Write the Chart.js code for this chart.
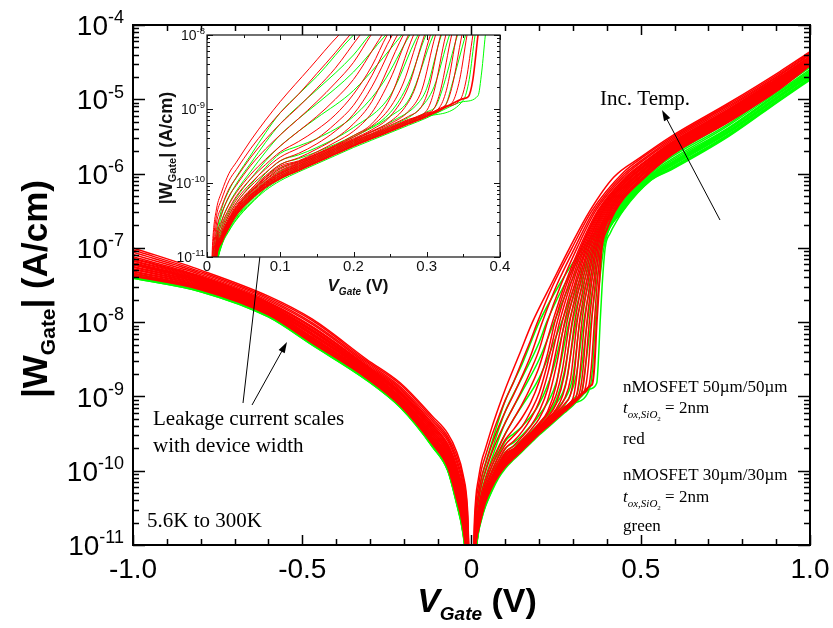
<!DOCTYPE html>
<html>
<head>
<meta charset="utf-8">
<script src="https://cdn.jsdelivr.net/npm/chart.js@4"></script>
<style>
  html, body { margin: 0; padding: 0; background: #fff; }
  #wrap { position: relative; width: 833px; height: 628px; }
  #wrap canvas { position: absolute; left: 0; top: 0; }
</style>
</head>
<body>
<div id="wrap">
  <canvas id="mainChart" width="833" height="628"></canvas>
  <canvas id="insetChart" width="833" height="628"></canvas>
</div>
<script>
// gate voltage grids (V) shared by all sweeps
const negV = [-1, -0.8, -0.6, -0.47, -0.31, -0.21, -0.115, -0.07, -0.045, -0.025, -0.012, -0.003];
const lowV = [0.004, 0.008, 0.013, 0.02, 0.03, 0.04, 0.06, 0.08, 0.1];

// log10 |W_Gate| (A/cm), 50um/50um device, coldest (5.6K) first, hottest (300K) last
const redNegLog = [
  [-7.38, -7.56, -7.90, -8.28, -8.75, -9.12, -9.64, -9.95, -10.35, -10.75, -11.30, -12.00],
  [-7.37, -7.55, -7.89, -8.27, -8.74, -9.11, -9.63, -9.94, -10.33, -10.73, -11.27, -11.99],
  [-7.35, -7.54, -7.88, -8.25, -8.73, -9.10, -9.61, -9.92, -10.30, -10.70, -11.24, -11.97],
  [-7.34, -7.53, -7.87, -8.24, -8.72, -9.09, -9.60, -9.90, -10.28, -10.67, -11.21, -11.96],
  [-7.32, -7.52, -7.86, -8.23, -8.71, -9.07, -9.58, -9.88, -10.25, -10.64, -11.18, -11.94],
  [-7.31, -7.51, -7.85, -8.22, -8.70, -9.06, -9.57, -9.87, -10.23, -10.62, -11.15, -11.93],
  [-7.29, -7.50, -7.84, -8.21, -8.69, -9.05, -9.56, -9.85, -10.21, -10.59, -11.11, -11.91],
  [-7.28, -7.49, -7.83, -8.20, -8.68, -9.04, -9.55, -9.83, -10.19, -10.57, -11.08, -11.90],
  [-7.26, -7.48, -7.82, -8.18, -8.67, -9.03, -9.53, -9.81, -10.16, -10.54, -11.05, -11.88],
  [-7.25, -7.47, -7.81, -8.17, -8.66, -9.02, -9.52, -9.80, -10.14, -10.51, -11.02, -11.87],
  [-7.23, -7.46, -7.80, -8.16, -8.65, -9.01, -9.50, -9.78, -10.11, -10.48, -10.99, -11.85],
  [-7.22, -7.45, -7.80, -8.15, -8.65, -9.00, -9.49, -9.76, -10.09, -10.46, -10.96, -11.84],
  [-7.21, -7.44, -7.79, -8.13, -8.64, -8.98, -9.47, -9.74, -10.06, -10.43, -10.93, -11.82],
  [-7.20, -7.43, -7.78, -8.12, -8.63, -8.97, -9.46, -9.73, -10.04, -10.40, -10.90, -11.81],
  [-7.18, -7.42, -7.77, -8.11, -8.62, -8.96, -9.44, -9.71, -10.02, -10.37, -10.87, -11.79],
  [-7.17, -7.41, -7.76, -8.10, -8.61, -8.95, -9.43, -9.69, -10.00, -10.35, -10.84, -11.77],
  [-7.15, -7.40, -7.75, -8.08, -8.60, -8.94, -9.41, -9.67, -9.97, -10.32, -10.81, -11.75],
  [-7.14, -7.39, -7.74, -8.07, -8.59, -8.93, -9.40, -9.66, -9.95, -10.30, -10.78, -11.74],
  [-7.12, -7.38, -7.73, -8.06, -8.58, -8.91, -9.38, -9.64, -9.92, -10.27, -10.75, -11.72],
  [-7.09, -7.36, -7.71, -8.03, -8.56, -8.89, -9.36, -9.60, -9.87, -10.21, -10.69, -11.69],
  [-7.06, -7.34, -7.69, -8.01, -8.54, -8.87, -9.33, -9.57, -9.83, -10.16, -10.62, -11.66],
  [-7.03, -7.32, -7.67, -7.98, -8.52, -8.84, -9.30, -9.54, -9.78, -10.10, -10.56, -11.63],
  [-7.00, -7.30, -7.65, -7.96, -8.50, -8.82, -9.27, -9.50, -9.73, -10.05, -10.50, -11.60]
];
const redLowLog = [
  [-12.00, -11.60, -11.00, -10.80, -10.60, -10.43, -10.22, -10.06, -9.94],
  [-12.00, -11.59, -11.00, -10.80, -10.60, -10.43, -10.21, -10.05, -9.93],
  [-11.99, -11.58, -10.99, -10.79, -10.59, -10.42, -10.20, -10.04, -9.92],
  [-11.99, -11.58, -10.98, -10.78, -10.58, -10.41, -10.20, -10.03, -9.91],
  [-11.98, -11.57, -10.97, -10.77, -10.57, -10.40, -10.19, -10.02, -9.90],
  [-11.98, -11.56, -10.97, -10.77, -10.57, -10.40, -10.18, -10.02, -9.89],
  [-11.98, -11.55, -10.96, -10.76, -10.56, -10.39, -10.17, -10.01, -9.88],
  [-11.98, -11.54, -10.96, -10.76, -10.55, -10.38, -10.17, -10.00, -9.87],
  [-11.97, -11.53, -10.95, -10.75, -10.54, -10.37, -10.16, -9.99, -9.86],
  [-11.97, -11.52, -10.94, -10.74, -10.53, -10.36, -10.15, -9.98, -9.85],
  [-11.96, -11.51, -10.93, -10.73, -10.52, -10.35, -10.13, -9.96, -9.83],
  [-11.95, -11.50, -10.92, -10.72, -10.51, -10.34, -10.12, -9.95, -9.81],
  [-11.94, -11.48, -10.91, -10.71, -10.50, -10.33, -10.11, -9.93, -9.79],
  [-11.94, -11.47, -10.90, -10.70, -10.49, -10.32, -10.10, -9.92, -9.77],
  [-11.93, -11.45, -10.88, -10.68, -10.47, -10.30, -10.08, -9.90, -9.75],
  [-11.91, -11.41, -10.85, -10.65, -10.44, -10.27, -10.04, -9.86, -9.70],
  [-11.89, -11.36, -10.82, -10.61, -10.40, -10.23, -10.00, -9.81, -9.65],
  [-11.86, -11.30, -10.78, -10.56, -10.35, -10.18, -9.94, -9.75, -9.58],
  [-11.83, -11.24, -10.73, -10.51, -10.29, -10.13, -9.88, -9.68, -9.50],
  [-11.77, -11.12, -10.63, -10.41, -10.18, -10.03, -9.76, -9.54, -9.35],
  [-11.72, -11.00, -10.54, -10.32, -10.08, -9.93, -9.65, -9.41, -9.20],
  [-11.66, -10.87, -10.44, -10.22, -9.97, -9.82, -9.53, -9.28, -9.05],
  [-11.60, -10.75, -10.35, -10.12, -9.87, -9.72, -9.42, -9.15, -8.90]
];
const redTail = [
  [[0.125, -9.83], [0.15, -9.72], [0.175, -9.61], [0.2, -9.5], [0.225, -9.4], [0.25, -9.3], [0.275, -9.2], [0.3, -9.1], [0.325, -8.98], [0.35, -8.86], [0.357, -8.83], [0.363, -8.6], [0.37, -8.0], [0.377, -7.5], [0.385, -7.0], [0.4, -6.75], [0.425, -6.5], [0.45, -6.33], [0.5, -6.1], [0.59, -5.75], [0.76, -5.3], [0.91, -4.86], [1.0, -4.54]],
  [[0.125, -9.82], [0.15, -9.71], [0.175, -9.6], [0.2, -9.49], [0.225, -9.39], [0.25, -9.29], [0.275, -9.19], [0.3, -9.09], [0.325, -8.97], [0.346, -8.87], [0.354, -8.6], [0.363, -8.0], [0.371, -7.5], [0.382, -7.0], [0.422, -6.5], [0.45, -6.32], [0.5, -6.09], [0.59, -5.74], [0.76, -5.29], [0.91, -4.85], [1.0, -4.54]],
  [[0.125, -9.81], [0.15, -9.7], [0.175, -9.59], [0.2, -9.48], [0.225, -9.38], [0.25, -9.28], [0.275, -9.18], [0.3, -9.08], [0.325, -8.96], [0.335, -8.91], [0.345, -8.6], [0.355, -8.0], [0.365, -7.5], [0.378, -7.0], [0.419, -6.5], [0.45, -6.3], [0.5, -6.08], [0.59, -5.73], [0.76, -5.28], [0.91, -4.84], [1.0, -4.53]],
  [[0.125, -9.8], [0.15, -9.69], [0.175, -9.58], [0.2, -9.47], [0.225, -9.37], [0.25, -9.27], [0.275, -9.17], [0.3, -9.07], [0.326, -8.94], [0.335, -8.68], [0.348, -8.0], [0.36, -7.5], [0.374, -7.0], [0.416, -6.5], [0.45, -6.29], [0.5, -6.07], [0.59, -5.72], [0.76, -5.27], [0.91, -4.83], [1.0, -4.52]],
  [[0.125, -9.79], [0.15, -9.68], [0.175, -9.57], [0.2, -9.46], [0.225, -9.36], [0.25, -9.26], [0.275, -9.16], [0.3, -9.06], [0.318, -8.97], [0.328, -8.7], [0.341, -8.0], [0.354, -7.5], [0.37, -7.0], [0.413, -6.5], [0.45, -6.27], [0.5, -6.05], [0.59, -5.71], [0.76, -5.26], [0.91, -4.82], [1.0, -4.51]],
  [[0.125, -9.78], [0.15, -9.67], [0.175, -9.56], [0.2, -9.45], [0.225, -9.35], [0.25, -9.25], [0.275, -9.15], [0.3, -9.05], [0.309, -9.01], [0.319, -8.74], [0.334, -8.0], [0.349, -7.5], [0.367, -7.0], [0.411, -6.5], [0.45, -6.26], [0.5, -6.04], [0.59, -5.7], [0.76, -5.25], [0.91, -4.82], [1.0, -4.51]],
  [[0.125, -9.77], [0.15, -9.66], [0.175, -9.55], [0.2, -9.44], [0.225, -9.34], [0.25, -9.24], [0.275, -9.14], [0.3, -9.02], [0.31, -8.76], [0.326, -8.0], [0.343, -7.5], [0.363, -7.0], [0.408, -6.5], [0.45, -6.24], [0.5, -6.03], [0.59, -5.69], [0.76, -5.24], [0.91, -4.81], [1.0, -4.5]],
  [[0.125, -9.76], [0.15, -9.65], [0.175, -9.54], [0.2, -9.43], [0.225, -9.33], [0.25, -9.22], [0.275, -9.1], [0.292, -8.98], [0.302, -8.75], [0.319, -8.0], [0.338, -7.5], [0.36, -7.0], [0.405, -6.5], [0.45, -6.23], [0.5, -6.02], [0.59, -5.68], [0.76, -5.23], [0.91, -4.8], [1.0, -4.49]],
  [[0.125, -9.75], [0.15, -9.64], [0.175, -9.53], [0.2, -9.42], [0.225, -9.31], [0.25, -9.2], [0.275, -9.03], [0.293, -8.75], [0.312, -8.0], [0.332, -7.5], [0.356, -7.0], [0.402, -6.5], [0.45, -6.21], [0.5, -6.0], [0.59, -5.67], [0.76, -5.22], [0.91, -4.79], [1.0, -4.48]],
  [[0.125, -9.74], [0.15, -9.63], [0.175, -9.52], [0.2, -9.41], [0.225, -9.3], [0.25, -9.17], [0.27, -8.98], [0.284, -8.72], [0.305, -8.0], [0.326, -7.5], [0.352, -7.0], [0.399, -6.5], [0.45, -6.2], [0.5, -5.99], [0.59, -5.66], [0.76, -5.21], [0.91, -4.78], [1.0, -4.48]],
  [[0.125, -9.73], [0.15, -9.62], [0.175, -9.51], [0.2, -9.4], [0.225, -9.28], [0.25, -9.1], [0.275, -8.7], [0.297, -8.0], [0.32, -7.5], [0.348, -7.0], [0.396, -6.5], [0.45, -6.18], [0.5, -5.98], [0.59, -5.65], [0.76, -5.2], [0.91, -4.77], [1.0, -4.47]],
  [[0.125, -9.72], [0.15, -9.61], [0.175, -9.5], [0.2, -9.38], [0.225, -9.23], [0.25, -8.98], [0.268, -8.65], [0.29, -8.0], [0.315, -7.5], [0.345, -7.0], [0.393, -6.5], [0.45, -6.17], [0.5, -5.97], [0.59, -5.64], [0.76, -5.19], [0.91, -4.76], [1.0, -4.47]],
  [[0.125, -9.71], [0.15, -9.6], [0.175, -9.49], [0.2, -9.36], [0.225, -9.2], [0.25, -8.85], [0.282, -8.0], [0.309, -7.5], [0.341, -7.0], [0.39, -6.5], [0.45, -6.15], [0.5, -5.95], [0.59, -5.63], [0.76, -5.18], [0.91, -4.75], [1.0, -4.46]],
  [[0.125, -9.7], [0.15, -9.58], [0.175, -9.45], [0.2, -9.3], [0.225, -9.05], [0.25, -8.6], [0.275, -8.0], [0.304, -7.5], [0.338, -7.0], [0.388, -6.5], [0.45, -6.14], [0.5, -5.94], [0.59, -5.63], [0.76, -5.18], [0.91, -4.75], [1.0, -4.45]],
  [[0.125, -9.66], [0.15, -9.54], [0.175, -9.4], [0.2, -9.2], [0.225, -8.9], [0.268, -8.0], [0.298, -7.5], [0.334, -7.0], [0.385, -6.5], [0.45, -6.13], [0.5, -5.93], [0.59, -5.62], [0.76, -5.17], [0.91, -4.74], [1.0, -4.44]],
  [[0.125, -9.6], [0.15, -9.47], [0.175, -9.3], [0.2, -9.07], [0.225, -8.7], [0.26, -8.0], [0.292, -7.5], [0.33, -7.0], [0.382, -6.5], [0.45, -6.12], [0.5, -5.92], [0.59, -5.61], [0.76, -5.16], [0.91, -4.73], [1.0, -4.44]],
  [[0.125, -9.53], [0.15, -9.4], [0.175, -9.2], [0.2, -8.95], [0.225, -8.55], [0.253, -8.0], [0.286, -7.5], [0.326, -7.0], [0.379, -6.5], [0.45, -6.1], [0.5, -5.9], [0.59, -5.6], [0.76, -5.15], [0.91, -4.72], [1.0, -4.43]],
  [[0.125, -9.44], [0.15, -9.28], [0.175, -9.08], [0.2, -8.8], [0.225, -8.42], [0.246, -8.0], [0.28, -7.5], [0.323, -7.0], [0.376, -6.5], [0.45, -6.09], [0.5, -5.89], [0.59, -5.59], [0.76, -5.14], [0.91, -4.71], [1.0, -4.43]],
  [[0.125, -9.3], [0.15, -9.1], [0.175, -8.87], [0.2, -8.6], [0.239, -8.0], [0.275, -7.5], [0.319, -7.0], [0.373, -6.5], [0.45, -6.07], [0.5, -5.88], [0.59, -5.58], [0.76, -5.13], [0.91, -4.7], [1.0, -4.42]],
  [[0.125, -9.13], [0.15, -8.9], [0.175, -8.65], [0.2, -8.37], [0.224, -8.0], [0.264, -7.5], [0.312, -7.0], [0.367, -6.5], [0.45, -6.04], [0.5, -5.85], [0.59, -5.56], [0.76, -5.11], [0.91, -4.68], [1.0, -4.4]],
  [[0.125, -8.97], [0.15, -8.72], [0.175, -8.45], [0.209, -8.0], [0.252, -7.5], [0.305, -7.0], [0.362, -6.5], [0.45, -6.01], [0.5, -5.83], [0.59, -5.54], [0.76, -5.09], [0.91, -4.67], [1.0, -4.39]],
  [[0.125, -8.8], [0.15, -8.52], [0.175, -8.24], [0.195, -8.0], [0.241, -7.5], [0.297, -7.0], [0.356, -6.5], [0.45, -5.98], [0.5, -5.8], [0.59, -5.52], [0.76, -5.07], [0.91, -4.65], [1.0, -4.37]],
  [[0.14, -8.45], [0.18, -8.0], [0.24, -7.45], [0.29, -7.0], [0.35, -6.5], [0.42, -6.05], [0.5, -5.78], [0.59, -5.5], [0.76, -5.05], [0.91, -4.63], [1.0, -4.36]]
];

// log10 |W_Gate| (A/cm), 30um/30um device, coldest first
const greenNegLog = [
  [-7.41, -7.59, -7.93, -8.31, -8.78, -9.15, -9.68, -10.00, -10.43, -10.85, -11.40, -12.00],
  [-7.41, -7.59, -7.93, -8.31, -8.78, -9.15, -9.68, -10.00, -10.42, -10.84, -11.39, -11.99],
  [-7.40, -7.58, -7.92, -8.30, -8.77, -9.14, -9.67, -9.99, -10.41, -10.83, -11.37, -11.98],
  [-7.40, -7.58, -7.92, -8.30, -8.77, -9.14, -9.67, -9.99, -10.40, -10.82, -11.36, -11.97],
  [-7.40, -7.58, -7.92, -8.30, -8.77, -9.14, -9.66, -9.98, -10.39, -10.80, -11.34, -11.95],
  [-7.40, -7.58, -7.92, -8.30, -8.77, -9.14, -9.66, -9.97, -10.38, -10.79, -11.33, -11.94],
  [-7.39, -7.57, -7.91, -8.29, -8.76, -9.13, -9.65, -9.96, -10.37, -10.78, -11.31, -11.93],
  [-7.39, -7.57, -7.91, -8.29, -8.76, -9.13, -9.65, -9.96, -10.37, -10.77, -11.30, -11.92],
  [-7.38, -7.56, -7.90, -8.28, -8.76, -9.12, -9.64, -9.95, -10.36, -10.75, -11.28, -11.90],
  [-7.38, -7.56, -7.90, -8.28, -8.76, -9.12, -9.64, -9.95, -10.35, -10.74, -11.26, -11.89],
  [-7.37, -7.56, -7.90, -8.27, -8.75, -9.11, -9.63, -9.94, -10.34, -10.73, -11.24, -11.88],
  [-7.37, -7.55, -7.89, -8.26, -8.74, -9.10, -9.62, -9.93, -10.32, -10.70, -11.21, -11.85],
  [-7.36, -7.55, -7.89, -8.26, -8.74, -9.10, -9.61, -9.91, -10.30, -10.68, -11.18, -11.83],
  [-7.35, -7.54, -7.88, -8.25, -8.73, -9.09, -9.60, -9.90, -10.28, -10.65, -11.15, -11.80]
];
const greenLowLog = [
  [-12.00, -11.70, -11.15, -10.85, -10.65, -10.50, -10.28, -10.10, -9.97],
  [-12.00, -11.69, -11.14, -10.84, -10.64, -10.49, -10.27, -10.08, -9.95],
  [-11.99, -11.67, -11.13, -10.83, -10.62, -10.47, -10.25, -10.06, -9.92],
  [-11.99, -11.65, -11.12, -10.82, -10.61, -10.46, -10.23, -10.04, -9.90],
  [-11.98, -11.62, -11.10, -10.80, -10.59, -10.44, -10.21, -10.01, -9.87],
  [-11.97, -11.60, -11.09, -10.78, -10.57, -10.42, -10.19, -9.99, -9.84],
  [-11.96, -11.57, -11.07, -10.76, -10.55, -10.40, -10.16, -9.96, -9.80],
  [-11.95, -11.54, -11.04, -10.74, -10.52, -10.37, -10.13, -9.92, -9.75],
  [-11.94, -11.50, -11.01, -10.71, -10.49, -10.33, -10.09, -9.87, -9.70],
  [-11.92, -11.42, -10.96, -10.66, -10.43, -10.27, -10.02, -9.79, -9.60],
  [-11.90, -11.34, -10.91, -10.60, -10.37, -10.20, -9.94, -9.70, -9.50],
  [-11.87, -11.23, -10.84, -10.52, -10.28, -10.11, -9.84, -9.58, -9.35],
  [-11.83, -11.11, -10.76, -10.43, -10.19, -10.01, -9.73, -9.45, -9.20],
  [-11.80, -11.00, -10.68, -10.35, -10.10, -9.92, -9.62, -9.32, -9.05]
];
const greenTail = [
  [[0.125, -9.85], [0.15, -9.74], [0.175, -9.63], [0.2, -9.52], [0.225, -9.42], [0.25, -9.32], [0.275, -9.22], [0.3, -9.12], [0.325, -9.0], [0.35, -8.9], [0.37, -8.82], [0.375, -8.5], [0.38, -8.0], [0.386, -7.5], [0.395, -7.0], [0.41, -6.8], [0.43, -6.63], [0.448, -6.5], [0.53, -6.09], [0.59, -5.95], [0.76, -5.5], [0.91, -5.02], [1.0, -4.74]],
  [[0.125, -9.83], [0.15, -9.72], [0.2, -9.5], [0.25, -9.3], [0.3, -9.1], [0.35, -8.88], [0.358, -8.6], [0.366, -8.0], [0.377, -7.5], [0.391, -7.0], [0.447, -6.5], [0.53, -6.09], [0.59, -5.94], [0.76, -5.49], [0.91, -5.01], [1.0, -4.73]],
  [[0.125, -9.81], [0.15, -9.7], [0.2, -9.48], [0.25, -9.28], [0.3, -9.08], [0.325, -8.96], [0.335, -8.65], [0.353, -8.0], [0.368, -7.5], [0.387, -7.0], [0.445, -6.5], [0.53, -6.08], [0.59, -5.93], [0.76, -5.48], [0.91, -5.0], [1.0, -4.72]],
  [[0.125, -9.79], [0.15, -9.68], [0.2, -9.46], [0.25, -9.26], [0.3, -9.04], [0.313, -8.95], [0.323, -8.68], [0.342, -8.0], [0.36, -7.5], [0.383, -7.0], [0.443, -6.5], [0.53, -6.07], [0.59, -5.92], [0.76, -5.47], [0.91, -4.99], [1.0, -4.71]],
  [[0.125, -9.77], [0.15, -9.66], [0.2, -9.44], [0.25, -9.23], [0.29, -9.0], [0.31, -8.7], [0.331, -8.0], [0.352, -7.5], [0.379, -7.0], [0.441, -6.5], [0.53, -6.06], [0.59, -5.9], [0.76, -5.45], [0.91, -4.97], [1.0, -4.69]],
  [[0.125, -9.74], [0.15, -9.64], [0.2, -9.42], [0.25, -9.18], [0.29, -8.9], [0.3, -8.72], [0.32, -8.0], [0.345, -7.5], [0.375, -7.0], [0.44, -6.5], [0.53, -6.06], [0.59, -5.89], [0.76, -5.44], [0.91, -4.96], [1.0, -4.68]],
  [[0.125, -9.71], [0.15, -9.61], [0.2, -9.38], [0.25, -9.1], [0.277, -8.85], [0.309, -8.0], [0.337, -7.5], [0.371, -7.0], [0.438, -6.5], [0.53, -6.05], [0.59, -5.88], [0.76, -5.43], [0.91, -4.95], [1.0, -4.67]],
  [[0.125, -9.67], [0.15, -9.58], [0.2, -9.36], [0.25, -9.05], [0.275, -8.65], [0.299, -8.0], [0.329, -7.5], [0.367, -7.0], [0.437, -6.5], [0.53, -6.04], [0.59, -5.87], [0.76, -5.42], [0.91, -4.94], [1.0, -4.66]],
  [[0.125, -9.62], [0.15, -9.52], [0.2, -9.25], [0.25, -8.82], [0.288, -8.0], [0.321, -7.5], [0.363, -7.0], [0.435, -6.5], [0.53, -6.03], [0.59, -5.86], [0.76, -5.4], [0.91, -4.92], [1.0, -4.65]],
  [[0.125, -9.5], [0.15, -9.4], [0.2, -9.1], [0.24, -8.65], [0.277, -8.0], [0.314, -7.5], [0.359, -7.0], [0.434, -6.5], [0.53, -6.03], [0.59, -5.85], [0.76, -5.39], [0.91, -4.91], [1.0, -4.64]],
  [[0.125, -9.3], [0.15, -9.12], [0.2, -8.75], [0.266, -8.0], [0.306, -7.5], [0.354, -7.0], [0.432, -6.5], [0.53, -6.02], [0.59, -5.83], [0.76, -5.38], [0.91, -4.9], [1.0, -4.62]],
  [[0.125, -9.13], [0.15, -8.93], [0.2, -8.5], [0.244, -8.0], [0.29, -7.5], [0.346, -7.0], [0.428, -6.5], [0.53, -6.0], [0.59, -5.81], [0.76, -5.35], [0.91, -4.88], [1.0, -4.6]],
  [[0.125, -8.96], [0.15, -8.74], [0.2, -8.27], [0.222, -8.0], [0.274, -7.5], [0.338, -7.0], [0.425, -6.5], [0.53, -5.98], [0.59, -5.78], [0.76, -5.33], [0.91, -4.85], [1.0, -4.57]],
  [[0.125, -8.8], [0.15, -8.56], [0.2, -8.0], [0.259, -7.5], [0.33, -7.0], [0.422, -6.5], [0.53, -5.97], [0.59, -5.76], [0.76, -5.3], [0.91, -4.83], [1.0, -4.55]]
];

// axis ticks and labels
const mainXTicks = [-1, -0.5, 0, 0.5, 1];
const mainXLabels = ['-1.0', '-0.5', '0', '0.5', '1.0'];
const mainYExps = [-4, -5, -6, -7, -8, -9, -10, -11];
const insetXTicks = [0, 0.1, 0.2, 0.3, 0.4];
const insetXLabels = ['0', '0.1', '0.2', '0.3', '0.4'];
const insetYExps = [-8, -9, -10, -11];

const SANS = '"Liberation Sans", Arial, sans-serif';
const SERIF = '"Liberation Serif", "Times New Roman", serif';

function sweep(negLog, lowLog, tail) {
  const pts = [];
  negV.forEach((v, i) => pts.push({ x: v, y: Math.pow(10, negLog[i]) }));
  lowV.forEach((v, i) => pts.push({ x: v, y: Math.pow(10, lowLog[i]) }));
  tail.forEach(p => pts.push({ x: p[0], y: Math.pow(10, p[1]) }));
  return pts;
}

function makeSets(width, coldWidth) {
  const sets = [];
  // red first so it sits on top of the green sweeps
  redNegLog.forEach((neg, k) => sets.push({
    data: sweep(neg, redLowLog[k], redTail[k]),
    borderColor: '#ff0000',
    borderWidth: k === 0 ? coldWidth : width
  }));
  greenNegLog.forEach((neg, j) => sets.push({
    data: sweep(neg, greenLowLog[j], greenTail[j]),
    borderColor: '#00ff00',
    borderWidth: width
  }));
  return sets;
}

function powLabel(ctx, exp, right, mid, big, small) {
  const sup = String(exp);
  ctx.font = small + 'px ' + SANS;
  const ws = ctx.measureText(sup).width;
  ctx.font = big + 'px ' + SANS;
  const wb = ctx.measureText('10').width;
  ctx.textAlign = 'left';
  ctx.textBaseline = 'alphabetic';
  ctx.fillText('10', right - ws - wb, mid + big * 0.36);
  ctx.font = small + 'px ' + SANS;
  ctx.fillText(sup, right - ws, mid - big * 0.06);
}

// text made of runs: [text, font, baseline shift]
function runs(ctx, parts, cx, cy, angle) {
  ctx.save();
  ctx.translate(cx, cy);
  ctx.rotate(angle);
  let total = 0;
  parts.forEach(p => { ctx.font = p[1]; total += ctx.measureText(p[0]).width; });
  let x = -total / 2;
  ctx.textAlign = 'left';
  ctx.textBaseline = 'alphabetic';
  parts.forEach(p => {
    ctx.font = p[1];
    ctx.fillText(p[0], x, p[2]);
    x += ctx.measureText(p[0]).width;
  });
  ctx.restore();
}

function arrow(ctx, x1, y1, x2, y2) {
  const a = Math.atan2(y2 - y1, x2 - x1);
  const len = 11, half = 3.5;
  ctx.beginPath();
  ctx.moveTo(x1, y1);
  ctx.lineTo(x2 - Math.cos(a) * len * 0.7, y2 - Math.sin(a) * len * 0.7);
  ctx.stroke();
  ctx.beginPath();
  ctx.moveTo(x2, y2);
  ctx.lineTo(x2 - len * Math.cos(a) + half * Math.sin(a), y2 - len * Math.sin(a) - half * Math.cos(a));
  ctx.lineTo(x2 - len * Math.cos(a) - half * Math.sin(a), y2 - len * Math.sin(a) + half * Math.cos(a));
  ctx.closePath();
  ctx.fill();
}

function drawTicks(ctx, chart, o) {
  const { chartArea: a, scales: { x, y } } = chart;
  ctx.lineWidth = o.tickWidth;
  ctx.beginPath();
  for (let v = o.xMin; v <= o.xMax + 1e-9; v += o.xMinor) {
    const px = Math.round(x.getPixelForValue(v)) + 0.5;
    const major = Math.abs(v / o.xMajor - Math.round(v / o.xMajor)) < 1e-6;
    const len = major ? o.majorLen : o.minorLen;
    ctx.moveTo(px, a.bottom); ctx.lineTo(px, a.bottom - len);
    ctx.moveTo(px, a.top); ctx.lineTo(px, a.top + len);
  }
  for (let e = o.yMinExp; e <= o.yMaxExp; e++) {
    for (let m = 1; m <= 9; m++) {
      if (e === o.yMaxExp && m > 1) break;
      const py = Math.round(y.getPixelForValue(m * Math.pow(10, e))) + 0.5;
      const len = m === 1 ? o.yMajorLen : o.minorLen;
      ctx.moveTo(a.left, py); ctx.lineTo(a.left + len, py);
      ctx.moveTo(a.right, py); ctx.lineTo(a.right - len, py);
    }
  }
  ctx.stroke();
  ctx.lineWidth = o.frameWidth;
  ctx.strokeRect(a.left, a.top, a.right - a.left, a.bottom - a.top);
}

const mainDecor = {
  id: 'mainDecor',
  beforeDraw(chart) {
    const ctx = chart.ctx;
    ctx.save();
    ctx.fillStyle = '#fff';
    ctx.fillRect(0, 0, chart.width, chart.height);
    ctx.restore();
  },
  afterDraw(chart) {
    const { ctx, scales: { x, y } } = chart;
    ctx.save();
    ctx.strokeStyle = '#000';
    ctx.fillStyle = '#000';
    drawTicks(ctx, chart, {
      xMin: -1, xMax: 1, xMinor: 0.1, xMajor: 0.5, yMinExp: -11, yMaxExp: -4,
      majorLen: 10, minorLen: 6, yMajorLen: 12, tickWidth: 1.5, frameWidth: 2
    });

    mainYExps.forEach(e => powLabel(ctx, e, 124, y.getPixelForValue(Math.pow(10, e)), 28, 18));
    ctx.font = '28px ' + SANS;
    ctx.textAlign = 'center';
    ctx.textBaseline = 'alphabetic';
    mainXTicks.forEach((v, i) => ctx.fillText(mainXLabels[i], x.getPixelForValue(v), 578));

    runs(ctx, [['V', 'italic bold 34px ' + SANS, 0], ['Gate', 'italic bold 19px ' + SANS, 8], [' (V)', 'bold 34px ' + SANS, 0]], 477, 612, 0);
    runs(ctx, [['|W', 'bold 35px ' + SANS, 0], ['Gate', 'bold 21px ' + SANS, 8], ['| (A/cm)', 'bold 35px ' + SANS, 0]], 47, 289, -Math.PI / 2);

    // annotations
    ctx.font = '21px ' + SERIF;
    ctx.textAlign = 'left';
    ctx.fillText('Inc. Temp.', 600, 105);
    ctx.fillText('Leakage current scales', 153, 425);
    ctx.fillText('with device width', 153, 452);
    ctx.fillText('5.6K to 300K', 147, 527);

    const note = (size, y0, line) => {
      ctx.font = size + 'px ' + SERIF;
      ctx.fillText(line, 623, y0);
    };
    const thick = (y0) => {
      ctx.font = 'italic 17px ' + SERIF;
      ctx.fillText('t', 623, y0);
      let px = 623 + ctx.measureText('t').width;
      ctx.font = 'italic 11px ' + SERIF;
      ctx.fillText('ox,SiO', px, y0 + 5);
      px += ctx.measureText('ox,SiO').width;
      ctx.font = '7px ' + SERIF;
      ctx.fillText('2', px, y0 + 8);
      px += ctx.measureText('2').width;
      ctx.font = '17px ' + SERIF;
      ctx.fillText(' = 2nm', px, y0);
    };
    note(17, 392, 'nMOSFET 50\u00b5m/50\u00b5m');
    thick(413);
    note(17, 444, 'red');
    note(17, 480, 'nMOSFET 30\u00b5m/30\u00b5m');
    thick(502);
    note(17, 531, 'green');

    ctx.lineWidth = 1;
    arrow(ctx, 720, 220, 662, 110);
    arrow(ctx, 243, 403, 267, 195);
    arrow(ctx, 252, 405, 287, 342);
    ctx.restore();
  }
};

const insetDecor = {
  id: 'insetDecor',
  beforeDatasetsDraw(chart) {
    const { ctx, chartArea: a } = chart;
    ctx.save();
    ctx.fillStyle = '#fff';
    ctx.fillRect(a.left, a.top, a.right - a.left, a.bottom - a.top);
    ctx.restore();
  },
  afterDraw(chart) {
    const { ctx, scales: { x, y } } = chart;
    ctx.save();
    ctx.strokeStyle = '#111';
    ctx.fillStyle = '#111';
    drawTicks(ctx, chart, {
      xMin: 0, xMax: 0.4, xMinor: 0.05, xMajor: 0.1, yMinExp: -11, yMaxExp: -8,
      majorLen: 5, minorLen: 3, yMajorLen: 6, tickWidth: 1, frameWidth: 1.2
    });
    insetYExps.forEach(e => powLabel(ctx, e, 205, y.getPixelForValue(Math.pow(10, e)), 14, 9.5));
    ctx.font = '15px ' + SANS;
    ctx.textAlign = 'center';
    ctx.textBaseline = 'alphabetic';
    insetXTicks.forEach((v, i) => ctx.fillText(insetXLabels[i], x.getPixelForValue(v), 271));
    runs(ctx, [['V', 'italic bold 17px ' + SANS, 0], ['Gate', 'italic bold 10px ' + SANS, 4], [' (V)', 'bold 17px ' + SANS, 0]], 358, 291, 0);
    runs(ctx, [['|W', 'bold 18px ' + SANS, 0], ['Gate', 'bold 11px ' + SANS, 4], ['| (A/cm)', 'bold 18px ' + SANS, 0]], 172, 148, -Math.PI / 2);
    ctx.restore();
  }
};

function baseOptions(padding, xMin, xMax, yMin, yMax) {
  return {
    responsive: false,
    animation: false,
    devicePixelRatio: 1,
    events: [],
    layout: { padding: padding },
    scales: {
      x: { type: 'linear', min: xMin, max: xMax, display: false },
      y: { type: 'logarithmic', min: yMin, max: yMax, display: false }
    },
    plugins: { legend: { display: false }, tooltip: { enabled: false } },
    elements: {
      point: { radius: 0 },
      line: { cubicInterpolationMode: 'monotone', fill: false }
    }
  };
}

new Chart(document.getElementById('mainChart'), {
  type: 'line',
  data: { datasets: makeSets(1.5, 2) },
  options: baseOptions({ left: 133, top: 25, right: 23, bottom: 83 }, -1, 1, 1e-11, 1e-4),
  plugins: [mainDecor]
});

new Chart(document.getElementById('insetChart'), {
  type: 'line',
  data: { datasets: makeSets(1, 1.6) },
  options: baseOptions({ left: 207, top: 35, right: 333, bottom: 371 }, 0, 0.4, 1e-11, 1e-8),
  plugins: [insetDecor]
});
</script>
</body>
</html>
